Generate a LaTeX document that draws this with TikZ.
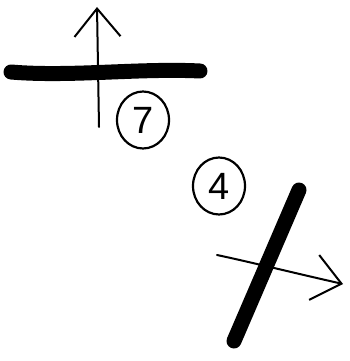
\documentclass[tikz,border=0pt]{standalone}
\usepackage{fontspec}
\setmainfont{Liberation Sans}
\usetikzlibrary{arrows.meta}
\begin{document}
\begin{tikzpicture}[x=1pt,y=-1pt,
  bar/.style={line width=15pt,line cap=round,black},
  axisarrow/.style={line width=2pt,line cap=round,-{Straight Barb[length=28pt,width=46pt,line width=2pt]}},
  numcircle/.style={ellipse,draw,line width=2.2pt,minimum width=52pt,minimum height=57pt,inner sep=0pt,font=\fontsize{38}{38}\selectfont}]
\usetikzlibrary{shapes.geometric}
\useasboundingbox (0,0) rectangle (350,361);
% horizontal bar
\coordinate (b1) at (11,72);
\coordinate (b2) at (200,71);
\draw[bar] (b1) .. controls (70,77) and (140,68) .. (b2);
% vertical arrow
\coordinate (v1) at (99,127);
\coordinate (v2) at (97,7);
\draw[axisarrow] (v1) -- (v2);
% diagonal bar
\coordinate (d1) at (299,190);
\coordinate (d2) at (234,341);
\draw[bar] (d1) -- (d2);
% horizontal arrow
\coordinate (h1) at (217,255);
\coordinate (h2) at (343,284);
\draw[axisarrow] (h1) .. controls (250,262) and (290,272) .. (h2);
% numbers
\node[numcircle] (n7) at (143,120) {7};
\node[numcircle] (n4) at (219,186) {4};
\end{tikzpicture}
\end{document}
